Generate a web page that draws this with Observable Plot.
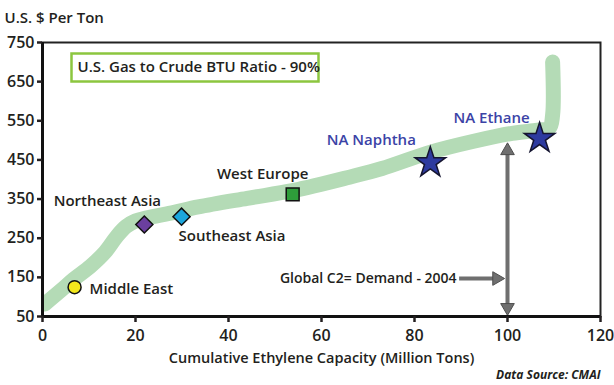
<!DOCTYPE html>
<html><head><meta charset="utf-8">
<script src="https://cdn.jsdelivr.net/npm/d3@7"></script>
<script src="https://cdn.jsdelivr.net/npm/@observablehq/plot@0.6"></script>
<style>html,body{margin:0;padding:0;background:#fff}</style>
</head><body><div id="chart"></div>
<script>
// Supply curve (cumulative capacity, million tons -> US$ per ton)
const curveX = [0.5, 3.9, 6.7, 10.3, 13.5, 16, 18, 20, 22.5, 28.3, 33.5, 44, 54, 66, 73, 83.5, 92.5, 101, 106.5, 109, 109.7, 109.7];
const curveY = [82, 116, 145, 178, 215, 255, 280, 294, 302, 316, 330, 352, 372, 406, 428, 470, 497, 518, 526, 532, 565, 700];

// Regions
const regionNames = ["Middle East", "Northeast Asia", "Southeast Asia", "West Europe", "NA Naphtha", "NA Ethane"];
const regionX = [6.9, 21.9, 29.9, 53.8, 83.4, 106.9];
const regionY = [125, 285, 305, 362, 443, 505];

// Demand annotation
const demandX = 100;
const demandTopY = 494;
const demandLabelY = 147;
const demandLabelX = 89.7;
const demandLabel = "Global C2= Demand - 2004";

// Ticks and texts
const xTicks = [0, 20, 40, 60, 80, 100, 120];
const yTicks = [50, 150, 250, 350, 450, 550, 650, 750];
const yTitle = "U.S. $ Per Ton";
const xTitle = "Cumulative Ethylene Capacity (Million Tons)";
const boxText = "U.S. Gas to Crude BTU Ratio - 90%";
const source = "Data Source: CMAI";

const curve = curveX.map((x, i) => ({x, y: curveY[i]}));
const pts = regionNames.map((name, i) => ({name, x: regionX[i], y: regionY[i]}));
const pt = (n) => pts.filter(d => d.name === n);

const ink = "#231f20";
const blue = "#3b43a6";
const gray = "#6f6f6f";
const lab = (n, o) => Plot.text(pt(n), {x: "x", y: "y", text: "name", fontSize: 15, fontWeight: 600, fill: ink, ...o});
const head = (d, o) => Plot.dot([d], {x: "x", y: "y", symbol: "triangle2", r: 6.5, fill: gray, stroke: "#4d4d4d", strokeWidth: 1, ...o});

const chart = Plot.plot({
  width: 614, height: 385,
  marginLeft: 42, marginRight: 14, marginTop: 42, marginBottom: 69,
  x: {domain: [0, 120]},
  y: {domain: [50, 750]},
  style: {fontFamily: "'Open Sans', sans-serif", fontWeight: 600, color: ink, background: "#fff"},
  marks: [
    // supply band
    Plot.line(curve, {x: "x", y: "y", stroke: "#b4dbb6", strokeWidth: 15, strokeLinecap: "round", strokeLinejoin: "round", curve: "catmull-rom", clip: true}),
    // legend box
    Plot.frame({insetLeft: 29, insetRight: 282, insetTop: 11, insetBottom: 235, stroke: "#8cc63f", strokeWidth: 2.5, fill: "none"}),
    Plot.text([boxText], {frameAnchor: "top-left", dx: 35, dy: 25, textAnchor: "start", lineAnchor: "middle", fontSize: 15, fontWeight: 600, fill: ink}),
    // demand arrows
    Plot.ruleX([demandX], {y1: 60, y2: 482, stroke: gray, strokeWidth: 4}),
    Plot.ruleY([demandLabelY], {x1: demandLabelX, x2: demandX - 2, stroke: gray, strokeWidth: 4}),
    head({x: demandX, y: demandTopY}, {rotate: 0, dy: 8}),
    head({x: demandX, y: 50}, {rotate: 180, dy: -9}),
    head({x: demandX - 0.6, y: demandLabelY}, {rotate: 90, dx: -8}),
    Plot.text([demandLabel], {x: demandLabelX, y: demandLabelY, dx: -3, textAnchor: "end", fontSize: 14, fontWeight: 600, fill: ink}),
    // region markers
    Plot.dot(pt("Middle East"), {x: "x", y: "y", r: 6.5, fill: "#f3e81c", stroke: "#111", strokeWidth: 1.5}),
    Plot.dot(pt("Northeast Asia"), {x: "x", y: "y", symbol: "diamond2", r: 7.7, fill: "#6b3f9f", stroke: "#111", strokeWidth: 1.5}),
    Plot.dot(pt("Southeast Asia"), {x: "x", y: "y", symbol: "diamond2", r: 7.7, fill: "#1ca6dc", stroke: "#111", strokeWidth: 1.5}),
    Plot.dot(pt("West Europe"), {x: "x", y: "y", symbol: "square2", r: 8.2, fill: "#2e9d3a", stroke: "#111", strokeWidth: 1.5}),
    Plot.dot(pts.filter(d => d.name.startsWith("NA")), {x: "x", y: "y", symbol: "star", r: 9.6, fill: "#2d3a9f", stroke: "#151530", strokeWidth: 1.5}),
    // region labels
    lab("Middle East", {textAnchor: "start", dx: 15, dy: 2}),
    lab("Northeast Asia", {dx: -37, dy: -23}),
    lab("Southeast Asia", {textAnchor: "start", dx: -3, dy: 20}),
    lab("West Europe", {dx: -30, dy: -20}),
    lab("NA Naphtha", {dx: -59, dy: -22, fill: blue}),
    lab("NA Ethane", {dx: -48, dy: -20, fill: blue}),
    // frame and axes
    Plot.frame({stroke: "#222", strokeWidth: 2}),
    Plot.ruleX([0], {stroke: "#111", strokeWidth: 3}),
    Plot.ruleY([50], {stroke: "#111", strokeWidth: 3}),
    Plot.axisY(yTicks, {tickSize: 5, tickPadding: 3, strokeWidth: 2.5, fontSize: 16, fontWeight: 600, label: null}),
    Plot.axisX(xTicks, {tickSize: 6, tickPadding: 7, strokeWidth: 2.5, fontSize: 16, fontWeight: 600, label: null}),
    // titles
    Plot.text([yTitle], {frameAnchor: "top-left", dx: -38, dy: -24, textAnchor: "start", lineAnchor: "middle", fontSize: 15, fontWeight: 600, fill: ink}),
    Plot.text([xTitle], {frameAnchor: "bottom", dy: 42, lineAnchor: "middle", fontSize: 14.5, fontWeight: 600, fill: ink}),
    Plot.text([source], {frameAnchor: "bottom-right", dx: 0, dy: 59, textAnchor: "end", lineAnchor: "middle", fontSize: 12, fontWeight: 700, fontStyle: "italic", fill: ink})
  ]
});
document.getElementById("chart").appendChild(chart);
</script>
</body></html>
